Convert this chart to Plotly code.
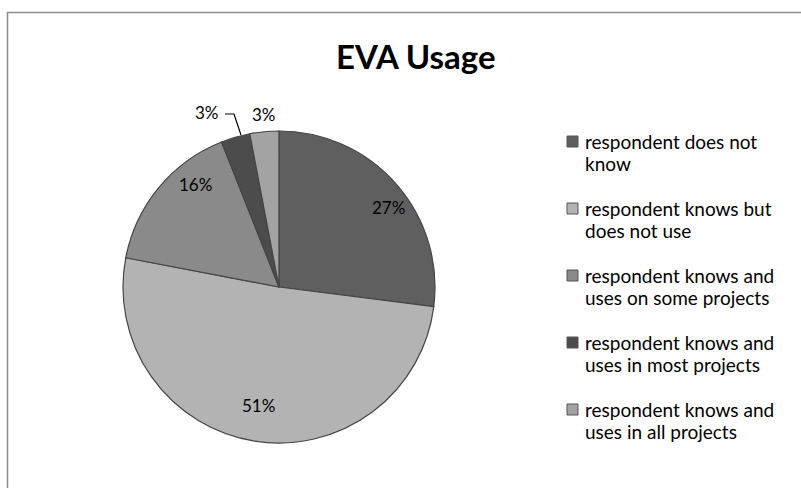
import plotly.graph_objects as go

categories = [
    "respondent does not<br>know",
    "respondent knows but<br>does not use",
    "respondent knows and<br>uses on some projects",
    "respondent knows and<br>uses in most projects",
    "respondent knows and<br>uses in all projects",
]
values = [27, 51, 16, 3, 3]
colors = ["#5f5f5f", "#b3b3b3", "#8a8a8a", "#4c4c4c", "#a3a3a3"]

W, H = 801, 488
cx, cy, R = 279, 287, 156
FONT = "Lato"

def px(x):
    return x / W

def py(y):
    return 1 - y / H

fig = go.Figure(go.Pie(
    labels=[c.replace("<br>", " ") for c in categories],
    values=values,
    sort=False,
    direction="clockwise",
    rotation=0,
    marker=dict(colors=colors, line=dict(color="#454545", width=1.2)),
    textinfo="none",
    domain=dict(x=[px(cx - R), px(cx + R)], y=[py(cy + R), py(cy - R)]),
    showlegend=False,
    hoverinfo="label+percent",
))

# percentage labels (text placement only)
total = sum(values)
label_xy = [(388, 207), (258, 405), (195, 184), (207, 112), (264, 115)]
annotations = []
for v, (lx, ly) in zip(values, label_xy):
    annotations.append(dict(
        x=px(lx), y=py(ly), xref="paper", yref="paper",
        text=f"{round(100 * v / total)}%", showarrow=False,
        xanchor="center", yanchor="middle",
        font=dict(family=FONT, size=17, color="#000000"),
    ))

# title
annotations.append(dict(
    x=px(416), y=py(56), xref="paper", yref="paper",
    text="<b>EVA Usage</b>", showarrow=False, xanchor="center", yanchor="middle",
    font=dict(family=FONT, size=33, color="#000000"),
))

shapes = [
    # chart border
    dict(type="rect", xref="paper", yref="paper",
         x0=px(7.5), x1=1.05, y0=-0.05, y1=py(12.5),
         line=dict(color="#8c8c8c", width=1.5), layer="below"),
    # leader line for small slice
    dict(type="path", xref="paper", yref="paper",
         path=f"M {px(225)} {py(114)} L {px(234)} {py(114)} L {px(241)} {py(135)}",
         line=dict(color="#000000", width=1.2)),
]

# manual legend to match the original spacing
leg_x_marker, leg_x_text, leg_y0, leg_dy, line_dy = 567, 583, 141.5, 67, 22
for i, (cat, col) in enumerate(zip(categories, colors)):
    yc = leg_y0 + i * leg_dy
    shapes.append(dict(type="rect", xref="paper", yref="paper",
                       x0=px(leg_x_marker), x1=px(leg_x_marker + 11),
                       y0=py(yc + 5.5), y1=py(yc - 5.5),
                       fillcolor=col, line=dict(color="#555555", width=1)))
    for j, line in enumerate(cat.split("<br>")):
        annotations.append(dict(
            x=px(leg_x_text), y=py(yc + j * line_dy), xref="paper", yref="paper",
            text=line, showarrow=False, xanchor="left", yanchor="middle",
            font=dict(family=FONT, size=19, color="#000000"),
        ))

fig.update_layout(
    width=W, height=H,
    margin=dict(l=0, r=0, t=0, b=0),
    paper_bgcolor="white",
    annotations=annotations,
    shapes=shapes,
)

fig.write_html("out.html")
